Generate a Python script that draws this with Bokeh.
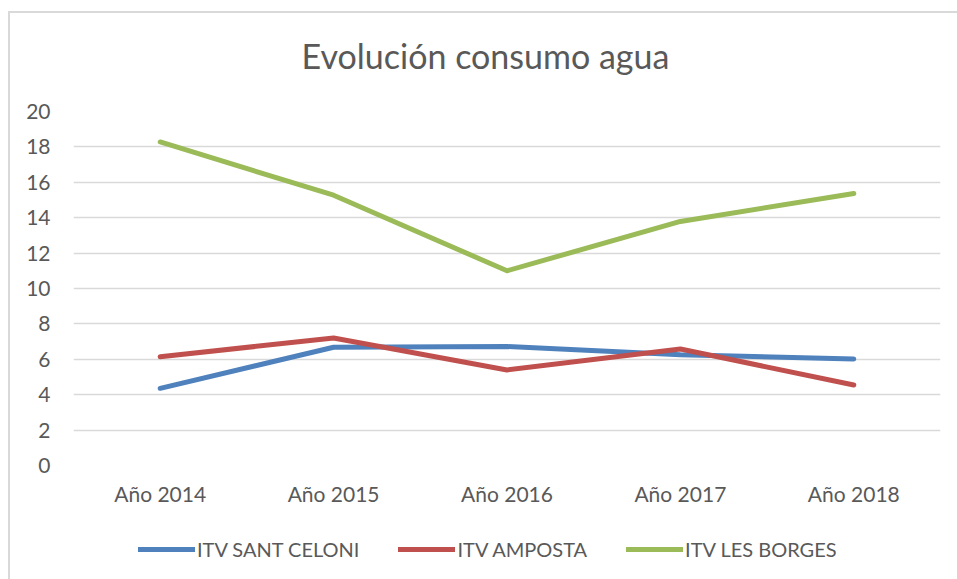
from bokeh.plotting import figure
from bokeh.layouts import column
from bokeh.models import (FactorRange, Range1d, SingleIntervalTicker, Legend, LegendItem, Label,
                          ColumnDataSource)
from bokeh.embed import file_html
from bokeh.resources import INLINE

years = ["Año 2014", "Año 2015", "Año 2016", "Año 2017", "Año 2018"]
sant_celoni = [4.36, 6.68, 6.72, 6.26, 6.02]
amposta = [6.15, 7.2, 5.4, 6.58, 4.55]
les_borges = [18.28, 15.27, 11.0, 13.79, 15.37]
series_names = ["ITV SANT CELONI", "ITV AMPOSTA", "ITV LES BORGES"]
series_colors = ["#4F81BD", "#C0504D", "#9BBB59"]
title_text = "Evolución consumo agua"

FONT = "Lato"
TXT = "#595959"

src = ColumnDataSource(dict(year=years, s0=sant_celoni, s1=amposta, s2=les_borges))

# title strip
tp = figure(width=947, height=85, output_backend="svg", toolbar_location=None,
            x_axis_type=None, y_axis_type=None,
            min_border_left=0, min_border_right=0, min_border_top=0, min_border_bottom=0)
tp.outline_line_color = None
tp.grid.visible = False
tp.add_layout(Label(x=412, y=43, x_units="screen", y_units="screen", text=title_text,
                    text_align="center", text_baseline="middle", text_font=FONT,
                    text_font_size="34px", text_color=TXT))

# main chart
p = figure(x_range=FactorRange(*years, range_padding=0), y_range=Range1d(0, 20),
           width=947, height=423, output_backend="svg", toolbar_location=None,
           min_border_left=63, min_border_right=17, min_border_top=13, min_border_bottom=56)
p.outline_line_color = None
p.xgrid.grid_line_color = None
p.ygrid.grid_line_color = "#d9d9d9"
p.ygrid.grid_line_width = 1.5
p.yaxis.ticker = SingleIntervalTicker(interval=2)
for ax in (p.xaxis[0], p.yaxis[0]):
    ax.axis_line_color = None
    ax.major_tick_line_color = None
    ax.minor_tick_line_color = None
    ax.major_label_text_font = FONT
    ax.major_label_text_color = TXT
p.yaxis.major_label_text_font_size = "21px"
p.xaxis.major_label_text_font_size = "21px"
p.yaxis.major_label_standoff = 17
p.xaxis.major_label_standoff = 9

for i, col in enumerate(series_colors):
    p.line("year", f"s{i}", source=src, line_color=col, line_width=5,
           line_cap="round", line_join="round")

# legend strip below the chart (its lines are outside its visible range)
lp = figure(x_range=FactorRange(*years, range_padding=0), y_range=Range1d(-100, -99),
            width=947, height=58, output_backend="svg", toolbar_location=None,
            x_axis_type=None, y_axis_type=None,
            min_border_left=0, min_border_right=0, min_border_top=0, min_border_bottom=0)
lp.outline_line_color = None
lp.grid.visible = False
items = []
for i, (name, col) in enumerate(zip(series_names, series_colors)):
    r = lp.line("year", f"s{i}", source=src, line_color=col, line_width=5, line_cap="round")
    items.append(LegendItem(label=name, renderers=[r]))
leg = Legend(items=items, orientation="horizontal", location=(65, 18),
             label_text_font=FONT, label_text_font_size="20px", label_text_color=TXT,
             glyph_width=57, glyph_height=20, label_standoff=2, spacing=39,
             border_line_color=None, background_fill_alpha=0, padding=4, margin=0)
lp.add_layout(leg, "center")

layout = column(tp, p, lp, spacing=0,
                styles={"border-left": "2px solid #d9d9d9", "border-top": "2px solid #d9d9d9",
                        "margin-left": "8px", "margin-top": "11px"})

open("out.html", "w").write(file_html(layout, INLINE))
